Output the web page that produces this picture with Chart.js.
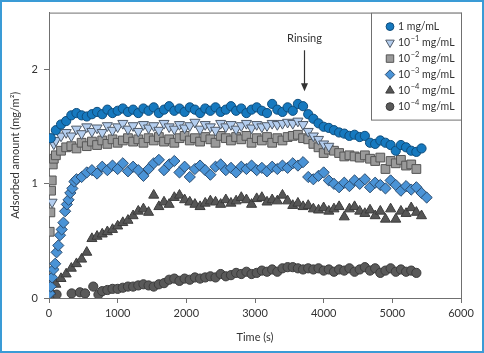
<!DOCTYPE html>
<html>
<head>
<meta charset="utf-8">
<script src="https://cdn.jsdelivr.net/npm/chart.js@4/dist/chart.umd.min.js"></script>
<style>
  html, body { margin: 0; padding: 0; background: #fff; }
  #wrap { width: 484px; height: 353px; }
</style>
</head>
<body>
<div id="wrap"><canvas id="chartCanvas" width="484" height="353"></canvas></div>
<script>
// sampling grid (s), shared by all series
const times = [25, 100, 175, 250, 325, 400, 475, 550, 625, 700, 775, 850, 925, 1000, 1075, 1150, 1225, 1300, 1375, 1450,
  1525, 1600, 1675, 1750, 1825, 1900, 1975, 2050, 2125, 2200, 2275, 2350, 2425, 2500, 2575, 2650, 2725, 2800, 2875, 2950,
  3025, 3100, 3175, 3250, 3325, 3400, 3475, 3550, 3625, 3700, 3775, 3850, 3925, 4000, 4075, 4150, 4225, 4300, 4375, 4450,
  4525, 4600, 4675, 4750, 4825, 4900, 4975, 5050, 5125, 5200, 5275, 5350, 5425, 5500]

const labels = ['1 mg/mL', '10^-1 mg/mL', '10^-2 mg/mL', '10^-3 mg/mL', '10^-4 mg/mL', '10^-4 mg/mL']

// 1 mg/mL
const conc1 = [1.40, 1.47, 1.52, 1.55, 1.60, 1.62, 1.60, 1.59, 1.61, 1.63,
  1.61, 1.65, 1.62, 1.64, 1.66, 1.63, 1.65, 1.62, 1.66, 1.64,
  1.67, 1.62, 1.65, 1.68, 1.64, 1.66, 1.63, 1.67, 1.65, 1.62,
  1.66, 1.64, 1.67, 1.63, 1.65, 1.68, 1.64, 1.66, 1.62, 1.65,
  1.67, 1.64, 1.62, 1.70, 1.65, 1.63, 1.67, 1.64, 1.70, 1.68,
  1.61, 1.57, 1.53, 1.50, 1.49, 1.47, 1.45, 1.44, 1.42, 1.43,
  1.41, 1.42, 1.36, 1.35, 1.38, 1.36, 1.34, 1.29, 1.34, 1.32,
  1.29, 1.28, 1.31]

// 10^-1 mg/mL
const conc2EarlyTimes = [45, 70]
const conc2Early = [0.84, 1.35]
const conc2 = [null, 1.38, 1.42, 1.45, 1.42, 1.48, 1.44, 1.50, 1.46, 1.49,
  1.45, 1.51, 1.47, 1.50, 1.53, 1.48, 1.51, 1.46, 1.52, 1.49,
  1.51, 1.47, 1.53, 1.50, 1.48, 1.52, 1.49, 1.51, 1.54, 1.48,
  1.52, 1.50, 1.47, 1.53, 1.50, 1.52, 1.48, 1.51, 1.53, 1.49,
  1.52, 1.50, 1.51, 1.53, 1.52, 1.53, 1.54, 1.53, 1.55, 1.52,
  1.46, 1.42, 1.39, 1.35, 1.33]

// 10^-2 mg/mL
const conc3EarlyTimes = [10, 20, 30, 40, 55, 70]
const conc3Early = [0.58, 0.75, 0.94, 1.03, 1.17, 1.22]
const conc3 = [null, 1.25, 1.29, 1.32, 1.33, 1.31, 1.36, 1.33, 1.37, 1.34,
  1.38, 1.35, 1.39, 1.36, 1.38, 1.40, 1.37, 1.39, 1.36, 1.40,
  1.38, 1.41, 1.37, 1.39, 1.36, 1.40, 1.42, 1.38, 1.40, 1.37,
  1.41, 1.39, 1.36, 1.42, 1.40, 1.38, 1.41, 1.39, 1.42, 1.36,
  1.40, 1.38, 1.41, 1.36, 1.40, 1.38, 1.41, 1.42, 1.43, 1.40,
  1.39, 1.35, 1.32, 1.27, 1.30, 1.29, 1.27, 1.24, 1.25, 1.24,
  1.23, 1.25, 1.22, 1.20, 1.23, 1.13, 1.20, 1.18, 1.21, 1.16,
  1.17, 1.13]

// 10^-3 mg/mL
const conc4EarlyTimes = [10, 25, 45, 65, 90, 110, 135, 160, 185, 210, 235, 260, 285, 310, 340, 370]
const conc4Early = [0.04, 0.10, 0.18, 0.25, 0.30, 0.40, 0.46, 0.55, 0.60, 0.66, 0.76, 0.82, 0.86, 0.92, 0.96, 1.02]
const conc4 = [null, null, null, null, null, 1.04, 1.06, 1.10, 1.12, 1.09,
  1.15, 1.12, 1.16, 1.13, 1.18, 1.11, 1.15, 1.12, 1.07, 1.13,
  1.18, 1.21, 1.12, 1.17, 1.20, 1.10, 1.15, 1.06, 1.13, 1.16,
  1.12, 1.08, 1.15, 1.17, 1.12, 1.14, 1.10, 1.15, 1.13, 1.16,
  1.12, 1.14, 1.11, 1.15, 1.13, 1.16, 1.14, 1.18, 1.16, 1.19,
  1.06, 1.04, 1.07, 1.10, 1.03, 1.00, 0.97, 1.01, 0.98, 1.03,
  1.00, 1.04, 0.97, 1.01, 0.99, 0.96, 1.03, 0.99, 0.94, 0.98,
  0.95, 0.97, 0.92, 0.88]

// 10^-4 mg/mL (triangles)
const conc5EarlyTimes = [5]
const conc5Early = [0.02]
const conc5 = [0.06, 0.12, 0.17, 0.21, 0.26, 0.30, 0.34, 0.40, 0.52, 0.54,
  0.56, 0.58, 0.60, 0.63, 0.66, 0.68, 0.72, 0.76, 0.78, 0.75,
  0.90, 0.80, 0.84, 0.82, 0.88, 0.90, 0.86, 0.84, 0.82, 0.80,
  0.83, 0.85, 0.84, 0.82, 0.86, 0.83, 0.85, 0.88, 0.86, 0.82,
  0.87, 0.88, 0.84, 0.86, 0.85, 0.90, 0.85, 0.81, 0.83, 0.80,
  0.81, 0.78, 0.77, 0.79, 0.76, 0.78, 0.80, 0.71, 0.78, 0.80,
  0.76, 0.74, 0.77, 0.72, 0.76, 0.69, 0.78, 0.69, 0.76, 0.74,
  0.79, 0.75, 0.72]

// 10^-4 mg/mL (circles)
const conc6EarlyTimes = [15, 110, 330, 450, 525, 645, 720]
const conc6Early = [0.01, 0.03, 0.04, 0.05, 0.04, 0.10, 0.03]
const conc6 = [null, null, null, null, null, null, null, null, null, null,
  0.06, 0.07, 0.08, 0.08, 0.09, 0.10, 0.10, 0.11, 0.12, 0.11,
  0.10, 0.12, 0.13, 0.16, 0.17, 0.15, 0.17, 0.16, 0.18, 0.17,
  0.18, 0.19, 0.18, 0.21, 0.19, 0.20, 0.22, 0.21, 0.23, 0.21,
  0.22, 0.24, 0.23, 0.25, 0.23, 0.26, 0.27, 0.27, 0.26, 0.25,
  0.26, 0.25, 0.26, 0.24, 0.25, 0.23, 0.25, 0.24, 0.26, 0.23,
  0.25, 0.27, 0.24, 0.26, 0.22, 0.24, 0.26, 0.23, 0.25, 0.23,
  0.24, 0.22]

const xTicks = [0, 1000, 2000, 3000, 4000, 5000, 6000]
const yTicks = [0, 1, 2]

const rinseTime = 3720
const rinseLabel = 'Rinsing'

const FONT = 'Lato'

const toPoints = (early, earlyTimes, values) => {
    const pts = []
    early.forEach((v, i) => pts.push({ x: earlyTimes[i], y: v }))
    values.forEach((v, i) => {
        if (v !== null) pts.push({ x: times[i], y: v })
    })
    return pts
}

const datasets = [
    { label: labels[0], data: toPoints([], [], conc1), pointStyle: 'circle', pointRadius: 4.6,
      backgroundColor: '#1679bf', borderColor: '#0f4d7c' },
    { label: labels[1], data: toPoints(conc2Early, conc2EarlyTimes, conc2), pointStyle: 'triangle', rotation: 180, pointRadius: 5.8,
      backgroundColor: '#b3cdee', borderColor: '#4f5a68' },
    { label: labels[2], data: toPoints(conc3Early, conc3EarlyTimes, conc3), pointStyle: 'rect', pointRadius: 6.2,
      backgroundColor: '#9a9a9a', borderColor: '#555555' },
    { label: labels[3], data: toPoints(conc4Early, conc4EarlyTimes, conc4), pointStyle: 'rectRot', pointRadius: 5.6,
      backgroundColor: '#4a93d6', borderColor: '#2a4c70' },
    { label: labels[4], data: toPoints(conc5Early, conc5EarlyTimes, conc5), pointStyle: 'triangle', pointRadius: 5.8,
      backgroundColor: '#565656', borderColor: '#3c3c3c' },
    { label: labels[5], data: toPoints(conc6Early, conc6EarlyTimes, conc6), pointStyle: 'circle', pointRadius: 4.6,
      backgroundColor: '#5a5a5a', borderColor: '#3c3c3c' }
]
datasets.forEach(d => {
    d.borderWidth = 1
    d.showLine = false
    d.pointHoverRadius = d.pointRadius
})

// frame, plot box, rinsing arrow and legend
const decorations = {
    id: 'decorations',
    beforeDatasetsDraw(chart) {
        const { ctx, chartArea } = chart
        ctx.save()
        ctx.strokeStyle = '#707070'
        ctx.lineWidth = 1
        ctx.strokeRect(chartArea.left + 0.5, chartArea.top + 0.5,
            chartArea.right - chartArea.left, chartArea.bottom - chartArea.top)
        ctx.restore()
    },
    afterDraw(chart) {
        const { ctx, chartArea, scales } = chart
        ctx.save()

        // rinsing arrow
        const ax = Math.round(scales.x.getPixelForValue(rinseTime)) + 0.5
        const top = scales.y.getPixelForValue(2.17)
        const tip = scales.y.getPixelForValue(1.81)
        ctx.strokeStyle = '#333'
        ctx.fillStyle = '#333'
        ctx.lineWidth = 1.2
        ctx.beginPath()
        ctx.moveTo(ax, top)
        ctx.lineTo(ax, tip - 6)
        ctx.stroke()
        ctx.beginPath()
        ctx.moveTo(ax - 3.5, tip - 8)
        ctx.lineTo(ax + 3.5, tip - 8)
        ctx.lineTo(ax, tip)
        ctx.closePath()
        ctx.fill()
        ctx.font = `11px ${FONT}`
        ctx.textAlign = 'center'
        ctx.textBaseline = 'middle'
        ctx.fillText(rinseLabel, ax, scales.y.getPixelForValue(2.27))

        // legend box
        const boxW = 90, boxH = 107
        const bx = chartArea.right - boxW
        const by = chartArea.top
        ctx.fillStyle = '#fff'
        ctx.fillRect(bx, by, boxW, boxH)
        ctx.strokeStyle = '#707070'
        ctx.lineWidth = 1
        ctx.strokeRect(bx + 0.5, by + 0.5, boxW, boxH)

        chart.data.datasets.forEach((d, i) => {
            const y = by + 14 + i * 16
            const mx = bx + 19
            ctx.fillStyle = d.backgroundColor
            ctx.strokeStyle = d.borderColor
            ctx.lineWidth = 1
            Chart.helpers.drawPoint(ctx, {
                pointStyle: d.pointStyle, radius: d.pointRadius * 0.85, rotation: d.rotation || 0, borderWidth: 1
            }, mx, y)

            let tx = bx + 27
            ctx.fillStyle = '#333'
            ctx.textAlign = 'left'
            ctx.textBaseline = 'middle'
            const m = d.label.match(/^(\d+)\^(-?\d+) (.*)$/)
            if (m) {
                ctx.font = `10.5px ${FONT}`
                ctx.fillText(m[1], tx, y)
                tx += ctx.measureText(m[1]).width + 0.5
                ctx.font = `7.5px ${FONT}`
                const exp = m[2].replace('-', '\u2212')
                ctx.fillText(exp, tx, y - 4)
                tx += ctx.measureText(exp).width
                ctx.font = `10.5px ${FONT}`
                ctx.fillText(' ' + m[3], tx, y)
            } else {
                ctx.font = `10.5px ${FONT}`
                ctx.fillText(d.label, tx, y)
            }
        })

        // outer frame
        ctx.strokeStyle = '#3a9bd6'
        ctx.lineWidth = 2
        ctx.strokeRect(1, 1, chart.width - 2, chart.height - 2)
        ctx.restore()
    }
}

const ctx = document.getElementById('chartCanvas').getContext('2d')
new Chart(ctx, {
    type: 'scatter',
    data: { datasets: datasets },
    options: {
        responsive: false,
        animation: false,
        events: [],
        layout: { padding: { left: 0, right: 23, top: 10, bottom: 0 } },
        plugins: { legend: { display: false }, tooltip: { enabled: false } },
        scales: {
            x: {
                type: 'linear', min: 0, max: 6000,
                afterBuildTicks: scale => { scale.ticks = xTicks.map(v => ({ value: v })) },
                afterFit: scale => { scale.height = 55 },
                border: { display: true, color: '#707070' },
                grid: { drawOnChartArea: false, tickLength: 5, color: '#707070' },
                ticks: { color: '#333', padding: 4, maxRotation: 0, callback: v => String(v), font: { family: FONT, size: 11 } },
                title: { display: true, text: 'Time (s)', color: '#333', padding: { bottom: 9 }, font: { family: FONT, size: 11 } }
            },
            y: {
                type: 'linear', min: 0, max: 2.5,
                afterBuildTicks: scale => { scale.ticks = yTicks.map(v => ({ value: v })) },
                afterFit: scale => { scale.width = 49 },
                border: { display: true, color: '#707070' },
                grid: { drawOnChartArea: false, tickLength: 5, color: '#707070' },
                ticks: { color: '#333', padding: 6, callback: v => String(v), font: { family: FONT, size: 11 } },
                title: { display: true, text: 'Adsorbed amount (mg/m\u00b2)', color: '#333', padding: { top: 9 }, font: { family: FONT, size: 11 } }
            }
        }
    },
    plugins: [decorations]
})
</script>
</body>
</html>
